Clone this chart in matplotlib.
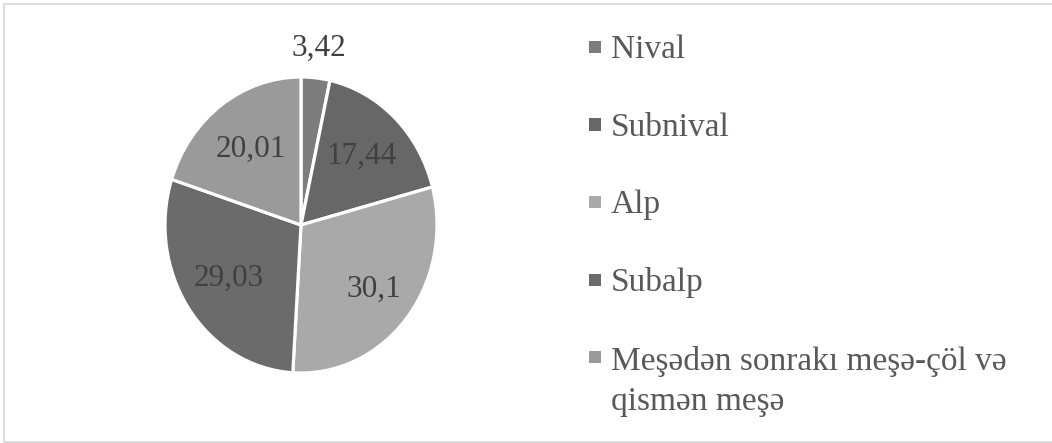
import matplotlib
matplotlib.use("Agg")
import matplotlib.pyplot as plt
from matplotlib.patches import Rectangle
import numpy as np

categories = ["Nival", "Subnival", "Alp", "Subalp",
              "Meşədən sonrakı meşə-çöl və\nqismən meşə"]
values = [3.42, 17.44, 30.1, 29.03, 20.01]
value_labels = ["3,42", "17,44", "30,1", "29,03", "20,01"]

colors = ["#7d7d7d", "#676767", "#a9a9a9", "#6b6b6b", "#9a9a9a"]
label_dist = [1.2, 0.64, 0.69, 0.64, 0.63]

plt.rcParams['font.family'] = ['Liberation Serif', 'DejaVu Serif']

W, H = 1052, 443
fig = plt.figure(figsize=(W / 100, H / 100), dpi=100)

# frame
fig.patches.append(Rectangle((4 / W, 1.5 / H), 1.2, (H - 5.5) / H,
                             transform=fig.transFigure, fill=False,
                             edgecolor="#d9d9d9", linewidth=1.3))

# pie axes (slightly taller than wide, as in the reference)
cx, cy, rx, ry = 301, 225, 136, 148
ax = fig.add_axes([(cx - rx) / W, (H - cy - ry) / H, 2 * rx / W, 2 * ry / H])
wedges, _ = ax.pie(values, colors=colors, startangle=90, counterclock=False,
                   wedgeprops=dict(edgecolor="white", linewidth=2.3))
ax.set_aspect('auto')
ax.set_xlim(-1, 1)
ax.set_ylim(-1, 1)
ax.axis('off')

for w, lab, d in zip(wedges, value_labels, label_dist):
    ang = np.deg2rad((w.theta1 + w.theta2) / 2)
    ax.text(d * np.cos(ang), d * np.sin(ang), lab, ha='center', va='center',
            fontsize=22.5, color="#404040")

# legend (placed in pixel positions of the reference)
x_text, x_mark, msize = 611, 589, 12
base0, step, line_h = 58, 77.5, 42
for i, (w, lab) in enumerate(zip(wedges, categories)):
    yb = base0 + step * i
    nlines = lab.count("\n") + 1
    fig.text(x_text / W, 1 - (yb + line_h * (nlines - 1)) / H, lab,
             ha='left', va='baseline', fontsize=24, color="#595959",
             linespacing=1.42)
    yc = yb - 11
    fig.patches.append(Rectangle((x_mark / W, 1 - (yc + msize / 2) / H),
                                 msize / W, msize / H,
                                 transform=fig.transFigure,
                                 facecolor=w.get_facecolor(), edgecolor='none'))

fig.savefig("out.png", dpi=100)
